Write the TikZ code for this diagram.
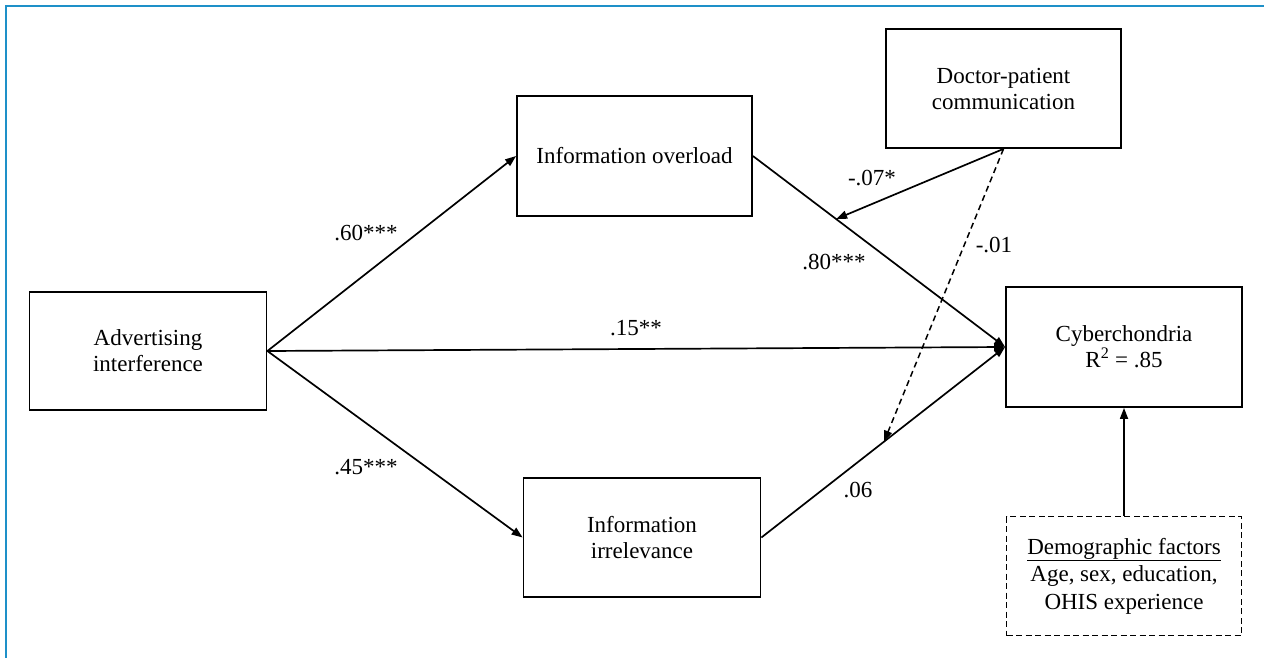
\documentclass[tikz,border=0pt]{standalone}
\usepackage{fontspec}
\setmainfont{Liberation Serif}
\usetikzlibrary{arrows.meta,calc}
\definecolor{frameblue}{RGB}{30,144,200}
\begin{document}
\begin{tikzpicture}[x=1pt,y=-1pt,
  every node/.style={font=\fontsize{23}{26}\selectfont},
  box/.style={draw, line width=1.8pt, rectangle, align=center, inner sep=0pt},
  dbox/.style={box, line width=1.6pt, dash pattern=on 6pt off 3.5pt},
  arr/.style={line width=1.7pt, -{Triangle[length=11pt,width=8pt]}},
  darr/.style={arr, line width=1.5pt, dash pattern=on 6pt off 4pt},
  lab/.style={inner sep=0pt}]
\useasboundingbox (0,0) rectangle (1264,658);
\draw[frameblue, line width=2.6pt] (6,662) -- (6,6) -- (1268,6);

\node[box, minimum width=237pt, minimum height=118pt] (adv) at (148,351) {Advertising\\interference};
\node[box, minimum width=235pt, minimum height=120pt] (over) at (634.5,156) {Information overload};
\node[box, minimum width=237pt, minimum height=119pt] (irr) at (642,537.5) {Information\\irrelevance};
\node[box, minimum width=235pt, minimum height=119pt] (doc) at (1003.5,88.5) {Doctor-patient\\communication};
\node[box, minimum width=236pt, minimum height=120pt] (cyb) at (1124,347) {Cyberchondria\\R\textsuperscript{2} = .85};
\node[dbox, minimum width=235pt, minimum height=119pt, font=\fontsize{23}{27.5}\selectfont] (dem) at (1124,576) {\underline{Demographic factors}\\Age, sex, education,\\OHIS experience};

\coordinate (m1) at ($(over.east)!0.33!(cyb.west)$);
\coordinate (m2) at ($(irr.east)!0.503!(cyb.west)$);

\draw[arr] (adv.east) -- (over.west);
\draw[arr] (adv.east) -- (cyb.west);
\draw[arr] (adv.east) -- (irr.west);
\draw[arr] (over.east) -- (cyb.west);
\draw[arr] (irr.east) -- (cyb.west);
\draw[arr] (doc.south) -- (m1);
\draw[darr] (doc.south) -- (m2);
\draw[arr] (dem.north) -- (cyb.south);

\node[lab] (l60) at (366,233) {.60***};
\node[lab] (l15) at (636,328) {.15**};
\node[lab] (l45) at (366,467) {.45***};
\node[lab] (l80) at (834,262) {.80***};
\node[lab] (l07) at (872,178) {-.07*};
\node[lab] (l01) at (994,245) {-.01};
\node[lab] (l06) at (858,490) {.06};
\end{tikzpicture}
\end{document}
